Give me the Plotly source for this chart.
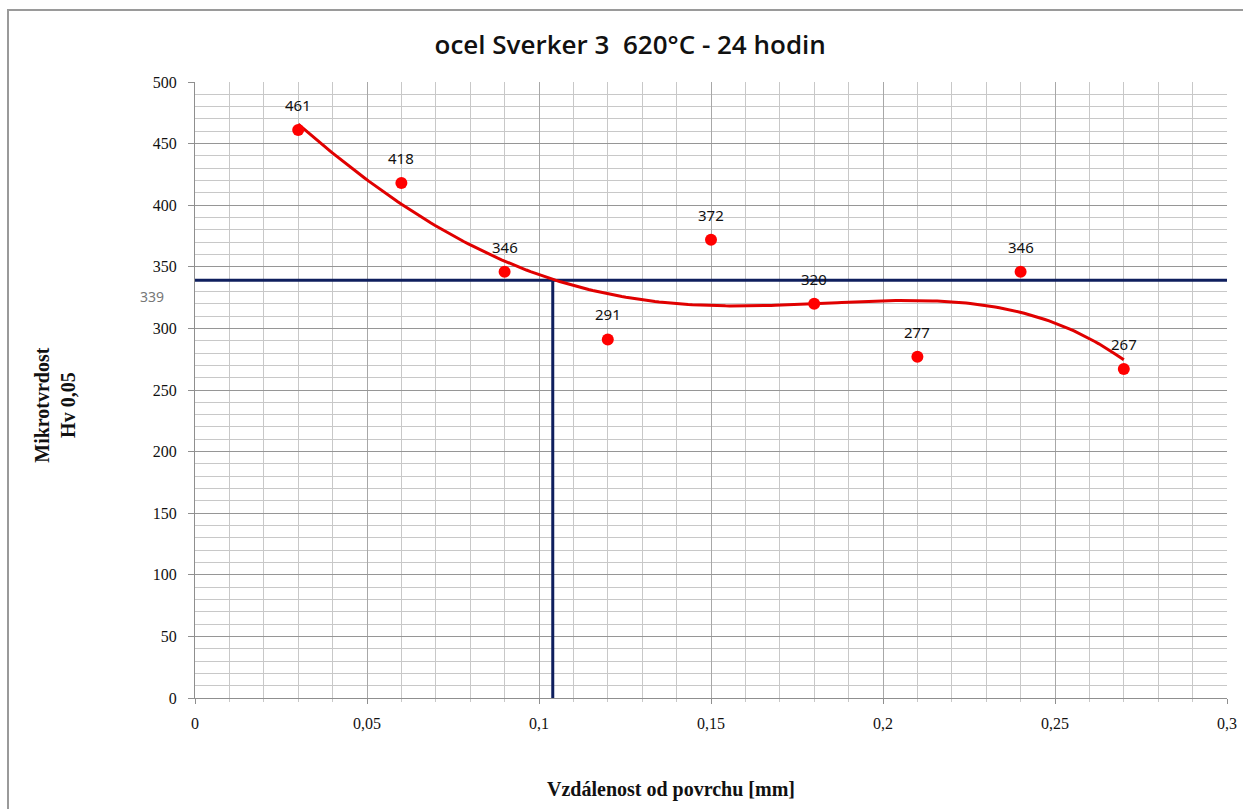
import numpy as np
import plotly.graph_objects as go

# Measured microhardness vs. distance from surface
distance_mm = [0.03, 0.06, 0.09, 0.12, 0.15, 0.18, 0.21, 0.24, 0.27]
hardness_hv = [461, 418, 346, 291, 372, 320, 277, 346, 267]

# Limit hardness and the depth where the trend crosses it
limit_hv = 339
limit_depth_mm = 0.104

x_tick_vals = [0, 0.05, 0.1, 0.15, 0.2, 0.25, 0.3]
x_tick_text = ["0", "0,05", "0,1", "0,15", "0,2", "0,25", "0,3"]
y_tick_vals = [0, 50, 100, 150, 200, 250, 300, 350, 400, 450, 500]

TITLE = "ocel Sverker 3  620°C - 24 hodin"
X_TITLE = "Vzdálenost od povrchu [mm]"
Y_TITLE = "Mikrotvrdost<br>Hv 0,05"

# 4th-order polynomial trendline through the measurements
coef = np.polyfit(distance_mm, hardness_hv, 4)
trend_x = np.linspace(min(distance_mm), max(distance_mm), 200)
trend_y = np.polyval(coef, trend_x)

navy = "#0f1f5e"
fig = go.Figure()

fig.add_trace(go.Scatter(x=[0, 0.3], y=[limit_hv, limit_hv], mode="lines",
                         line=dict(color=navy, width=3), hoverinfo="skip"))
fig.add_trace(go.Scatter(x=[limit_depth_mm, limit_depth_mm], y=[0, limit_hv], mode="lines",
                         line=dict(color=navy, width=3), hoverinfo="skip"))
fig.add_trace(go.Scatter(x=trend_x, y=trend_y, mode="lines",
                         line=dict(color="#e00000", width=3)))
fig.add_trace(go.Scatter(x=distance_mm, y=hardness_hv, mode="markers",
                         marker=dict(color="#ff0000", size=12)))

for xv, yv in zip(distance_mm, hardness_hv):
    fig.add_annotation(x=xv, y=yv, text=str(yv), showarrow=False, yshift=25,
                       xanchor="center",
                       font=dict(family="Noto Sans", size=15, color="#111"))

fig.add_annotation(xref="paper", x=-0.042, y=limit_hv, text=str(limit_hv), showarrow=False,
                   xanchor="center", yshift=-16,
                   font=dict(family="Noto Sans", size=14, color="#777"))

fig.add_annotation(xref="paper", yref="paper", x=-0.1357, y=0.476, text=Y_TITLE,
                   textangle=-90, showarrow=False, xanchor="center", yanchor="middle",
                   font=dict(family="Liberation Serif", size=20, color="#111", weight="bold"))
fig.add_annotation(xref="paper", yref="paper", x=0.461, y=-0.149, text=X_TITLE,
                   showarrow=False, xanchor="center", yanchor="middle",
                   font=dict(family="Liberation Serif", size=20, color="#111", weight="bold"))

# outer chart frame
fig.add_shape(type="rect", xref="paper", yref="paper", x0=-0.1812, x1=1.2, y0=-0.3, y1=1.117,
              line=dict(color="#9a9a9a", width=2), layer="below")

fig.update_layout(
    width=1243, height=809,
    margin=dict(l=195, r=16, t=82, b=111),
    paper_bgcolor="white", plot_bgcolor="white",
    showlegend=False,
    separators=", ",
    title=dict(text=TITLE, x=0.507, xanchor="center", y=0.944, yanchor="middle",
               font=dict(family="Open Sans", size=26, color="#111", weight=600)),
    xaxis=dict(range=[0, 0.3], tickvals=x_tick_vals, ticktext=x_tick_text,
               automargin=False,
               showgrid=True, gridcolor="#a8a8a8", gridwidth=1,
               minor=dict(dtick=0.01, showgrid=True, gridcolor="#c8c8c8", gridwidth=1,
                          ticks="outside", ticklen=3, tickcolor="#c8c8c8"),
               showline=True, linecolor="#8f8f8f", linewidth=1,
               ticks="outside", ticklen=5, tickcolor="#8f8f8f",
               ticklabelstandoff=6,
               zeroline=False, mirror=False,
               tickfont=dict(family="Liberation Serif", size=16, color="#111")),
    yaxis=dict(range=[0, 500], tickvals=y_tick_vals,
               automargin=False,
               showgrid=True, gridcolor="#969696", gridwidth=1,
               minor=dict(dtick=10, showgrid=True, gridcolor="#c8c8c8", gridwidth=1),
               showline=True, linecolor="#8f8f8f", linewidth=1,
               ticks="outside", ticklen=6, tickcolor="#8f8f8f",
               ticklabelstandoff=8,
               zeroline=False,
               tickfont=dict(family="Liberation Serif", size=16, color="#111")),
)

fig.write_html("out.html")
